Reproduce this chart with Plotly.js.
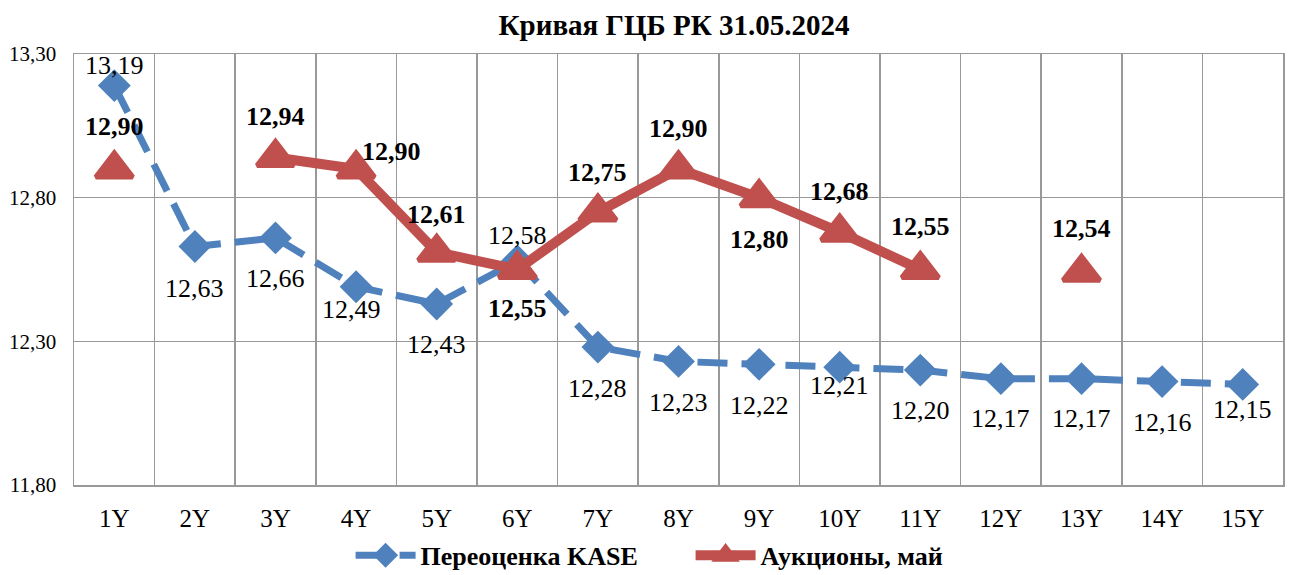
<!DOCTYPE html>
<html>
<head>
<meta charset="utf-8">
<script src="https://cdn.plot.ly/plotly-3.0.1.min.js"></script>
<style>html,body{margin:0;padding:0;background:#fff}#chart{width:1290px;height:575px}</style>
</head>
<body>
<div id="chart"></div>
<script>
// ---- data ----
var categories = ['1Y','2Y','3Y','4Y','5Y','6Y','7Y','8Y','9Y','10Y','11Y','12Y','13Y','14Y','15Y'];
var kaseValues = [13.19, 12.63, 12.66, 12.49, 12.43, 12.58, 12.28, 12.23, 12.22, 12.21, 12.20, 12.17, 12.17, 12.16, 12.15];
var auctionValues = [12.90, null, 12.94, 12.90, 12.61, 12.55, 12.75, 12.90, 12.80, 12.68, 12.55, null, 12.54, null, null];
var seriesNames = ['Переоценка KASE', 'Аукционы, май'];
var yTicks = [11.80, 12.30, 12.80, 13.30];

// ---- label placement (style) ----
var kaseLabelShift = [[0,20],[0,-42],[0,-41],[-5,-23],[0,-41],[0,25],[0,-41],[0,-41],[0,-41],[0,-18],[0,-40],[0,-40],[0,-40],[0,-41],[0,-25]];
var auctionLabelShift = [[0,42],null,[0,41],[35,17],[0,38],[0,-39],[0,40],[0,40],[0,-42],[0,41],[0,43],null,[0,44],null,null];

var BLUE = '#4F81BD', RED = '#C0504D';
var SERIF = '"Liberation Serif", "Times New Roman", serif';

function fmt(v){ return v.toFixed(2).replace('.', ','); }

var annotations = [];
kaseValues.forEach(function(v,i){
  if (v === null) return;
  annotations.push({x: categories[i], y: v, text: fmt(v), showarrow: false,
    xshift: kaseLabelShift[i][0], yshift: kaseLabelShift[i][1],
    font: {family: SERIF, size: 26, color: '#000'}});
});
auctionValues.forEach(function(v,i){
  if (v === null) return;
  annotations.push({x: categories[i], y: v, text: '<b>' + fmt(v) + '</b>', showarrow: false,
    xshift: auctionLabelShift[i][0], yshift: auctionLabelShift[i][1],
    font: {family: SERIF, size: 26, color: '#000'}});
});

var traces = [
  {x: categories, y: kaseValues, name: seriesNames[0], type: 'scatter', mode: 'lines+markers',
   line: {color: BLUE, width: 7, dash: '30px,14px'},
   marker: {symbol: 'diamond', size: 22, color: BLUE, line: {color: BLUE, width: 3}},
   hoverinfo: 'skip'},
  {x: categories, y: auctionValues, name: seriesNames[1], type: 'scatter', mode: 'lines+markers',
   connectgaps: false,
   line: {color: RED, width: 10},
   marker: {symbol: 'triangle-up', size: 32, color: RED, line: {color: RED, width: 5}},
   hoverinfo: 'skip'}
];

var layout = {
  width: 1290, height: 575,
  margin: {l: 74, r: 7, t: 54, b: 90, autoexpand: false},
  paper_bgcolor: '#fff', plot_bgcolor: '#fff',
  separators: ', ',
  title: {text: '<b>Кривая ГЦБ РК 31.05.2024</b>', font: {family: SERIF, size: 29, color: '#000'},
          x: 0.5225, xanchor: 'center', y: 0.957, yanchor: 'middle'},
  xaxis: {type: 'category', range: [-0.5, 14.5], tickson: 'boundaries', showgrid: true,
          gridcolor: '#999', gridwidth: 1.5, ticks: '', showline: true, linecolor: '#999', linewidth: 1.5, mirror: true,
          tickfont: {family: SERIF, size: 25, color: '#000'}, ticklabelstandoff: 10, fixedrange: true},
  yaxis: {range: [11.8, 13.3], tickvals: yTicks, ticktext: yTicks.map(fmt), showgrid: true,
          gridcolor: '#999', gridwidth: 1.5, zeroline: false, ticks: '', showline: true, linecolor: '#999', linewidth: 1.5, mirror: true,
          tickfont: {family: SERIF, size: 21, color: '#000'}, ticklabelstandoff: 12, fixedrange: true},
  showlegend: true,
  legend: {orientation: 'h', x: 0.51, xanchor: 'center', y: -0.163, yanchor: 'middle',
           font: {family: SERIF, size: 26, color: '#000', weight: 'bold'}, itemwidth: 60,
           entrywidth: 265, traceorder: 'normal', tracegroupgap: 0},
  annotations: annotations
};

Plotly.newPlot('chart', traces, layout, {staticPlot: true, displayModeBar: false});
</script>
</body>
</html>
